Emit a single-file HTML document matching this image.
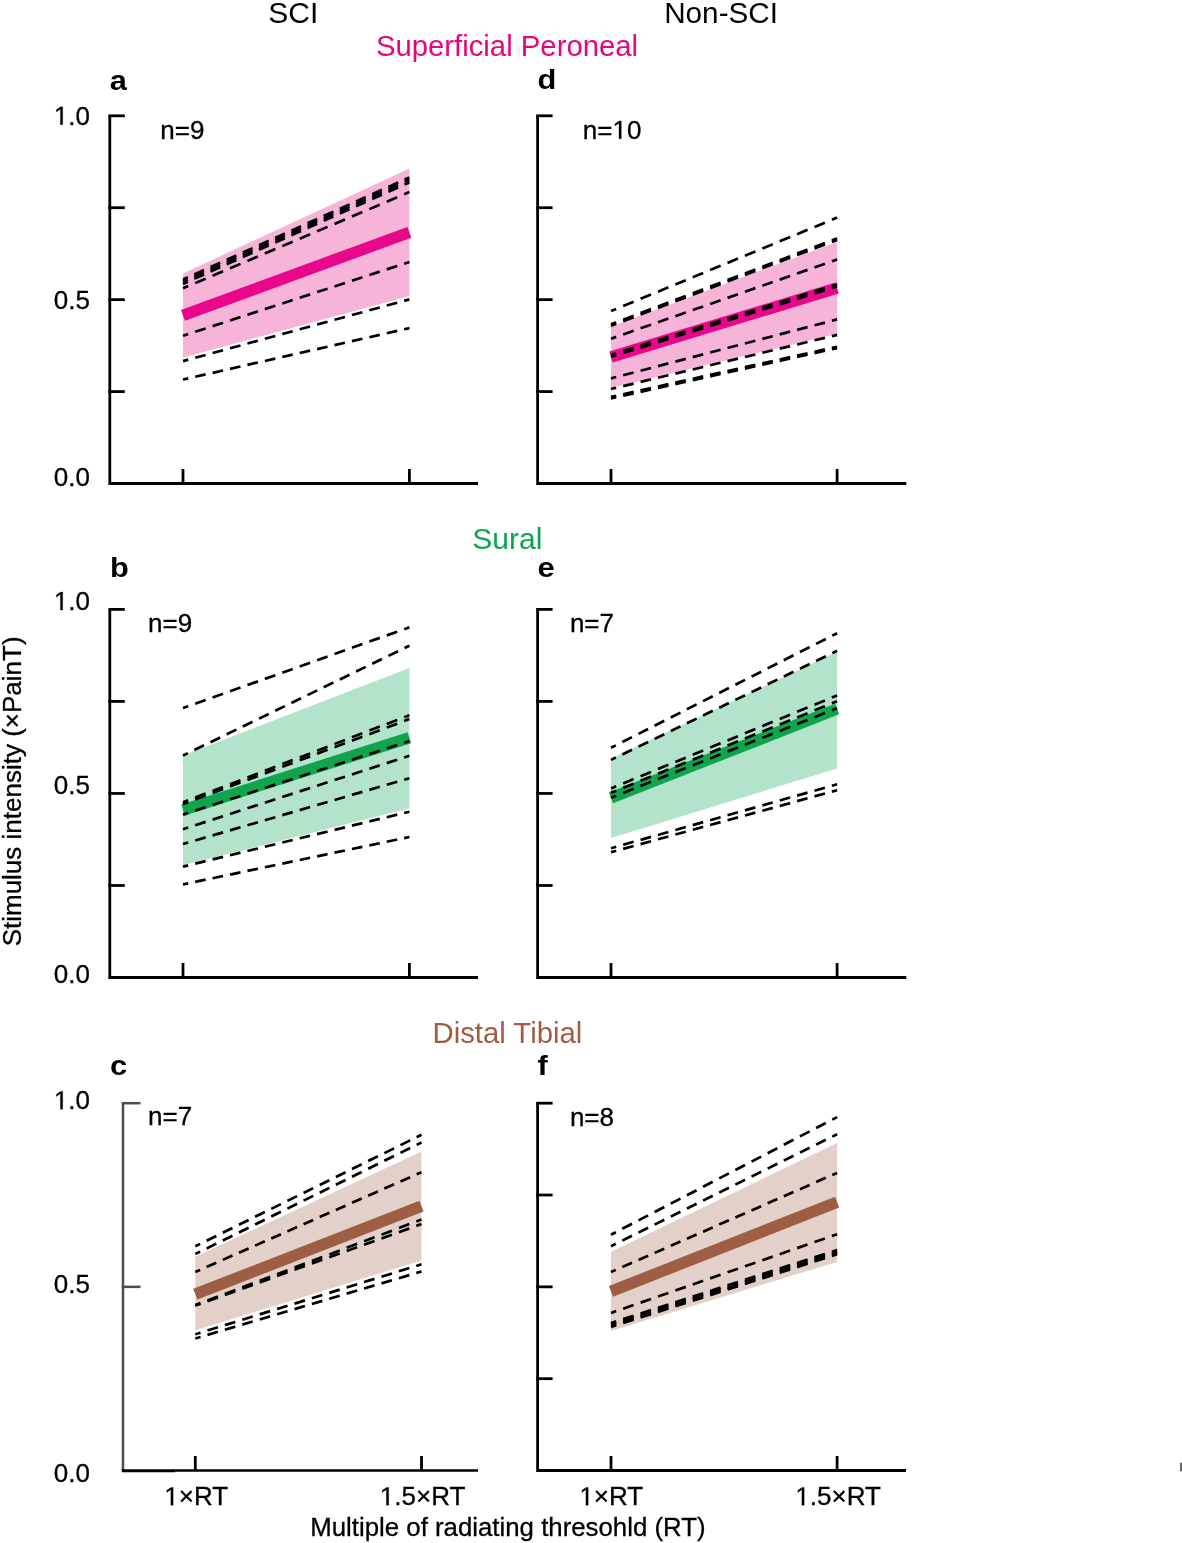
<!DOCTYPE html>
<html><head><meta charset="utf-8"><style>
html,body{margin:0;padding:0;background:#fff;}
body{width:1182px;height:1543px;overflow:hidden;font-family:"Liberation Sans", sans-serif;}
svg{display:block;will-change:transform;}
</style></head><body>
<svg width="1182" height="1543" viewBox="0 0 1182 1543" font-family='"Liberation Sans", sans-serif'>
<rect width="1182" height="1543" fill="#fff"/>
<path d="M109.8 115.8 V483.5 H478" fill="none" stroke="#000" stroke-width="2.8" stroke-linejoin="miter" stroke-linecap="butt"/>
<line x1="108.39999999999999" y1="115.8" x2="124.8" y2="115.8" stroke="#000" stroke-width="2.8"/>
<line x1="108.39999999999999" y1="207.725" x2="124.8" y2="207.725" stroke="#000" stroke-width="2.8"/>
<line x1="108.39999999999999" y1="299.65" x2="124.8" y2="299.65" stroke="#000" stroke-width="2.8"/>
<line x1="108.39999999999999" y1="391.575" x2="124.8" y2="391.575" stroke="#000" stroke-width="2.8"/>
<line x1="183" y1="483.5" x2="183" y2="469.0" stroke="#000" stroke-width="2.8"/>
<line x1="409.4" y1="483.5" x2="409.4" y2="469.0" stroke="#000" stroke-width="2.8"/>
<polygon points="183,273.4 409.4,168.4 409.4,296.0 183,357.5" fill="#F6B4D9"/>
<line x1="183" y1="315.4" x2="409.4" y2="232.3" stroke="#E8078A" stroke-width="11.5"/>
<line x1="183.00" y1="379.55" x2="409.40" y2="328.10" stroke="#000" stroke-width="2.7" stroke-dasharray="10.716 7.144" stroke-dashoffset="5.358"/>
<line x1="183.00" y1="361.10" x2="409.40" y2="299.40" stroke="#000" stroke-width="2.7" stroke-dasharray="10.830 7.220" stroke-dashoffset="5.415"/>
<line x1="183.00" y1="335.80" x2="409.40" y2="262.00" stroke="#000" stroke-width="2.7" stroke-dasharray="10.990 7.327" stroke-dashoffset="5.495"/>
<line x1="183.00" y1="288.30" x2="409.40" y2="192.10" stroke="#000" stroke-width="2.7" stroke-dasharray="11.353 7.569" stroke-dashoffset="5.677"/>
<line x1="183.00" y1="283.90" x2="409.40" y2="182.40" stroke="#000" stroke-width="2.7" stroke-dasharray="10.633 7.089" stroke-dashoffset="5.317"/>
<line x1="183.00" y1="281.70" x2="409.40" y2="179.90" stroke="#000" stroke-width="2.7" stroke-dasharray="10.639 7.092" stroke-dashoffset="5.319"/>
<line x1="183.00" y1="279.50" x2="409.40" y2="177.40" stroke="#000" stroke-width="2.7" stroke-dasharray="10.644 7.096" stroke-dashoffset="5.322"/>
<path d="M537.6 115.8 V483.5 H906.3" fill="none" stroke="#000" stroke-width="2.8" stroke-linejoin="miter" stroke-linecap="butt"/>
<line x1="536.2" y1="115.8" x2="552.6" y2="115.8" stroke="#000" stroke-width="2.8"/>
<line x1="536.2" y1="207.725" x2="552.6" y2="207.725" stroke="#000" stroke-width="2.8"/>
<line x1="536.2" y1="299.65" x2="552.6" y2="299.65" stroke="#000" stroke-width="2.8"/>
<line x1="536.2" y1="391.575" x2="552.6" y2="391.575" stroke="#000" stroke-width="2.8"/>
<line x1="611" y1="483.5" x2="611" y2="469.0" stroke="#000" stroke-width="2.8"/>
<line x1="837.1" y1="483.5" x2="837.1" y2="469.0" stroke="#000" stroke-width="2.8"/>
<polygon points="611,326.6 837.1,242.0 837.1,333.8 611,388.0" fill="#F6B4D9"/>
<line x1="611" y1="357.0" x2="837.1" y2="288.0" stroke="#E8078A" stroke-width="11.5"/>
<line x1="611.00" y1="311.05" x2="837.10" y2="217.60" stroke="#000" stroke-width="2.7" stroke-dasharray="11.292 7.528" stroke-dashoffset="5.646"/>
<line x1="611.00" y1="324.30" x2="837.10" y2="238.40" stroke="#000" stroke-width="2.7" stroke-dasharray="11.163 7.442" stroke-dashoffset="5.582"/>
<line x1="611.00" y1="325.80" x2="837.10" y2="239.90" stroke="#000" stroke-width="2.7" stroke-dasharray="11.163 7.442" stroke-dashoffset="5.582"/>
<line x1="611.00" y1="338.70" x2="837.10" y2="259.50" stroke="#000" stroke-width="2.7" stroke-dasharray="11.057 7.371" stroke-dashoffset="5.529"/>
<line x1="611.00" y1="354.80" x2="837.10" y2="284.30" stroke="#000" stroke-width="2.7" stroke-dasharray="10.931 7.287" stroke-dashoffset="5.465"/>
<line x1="611.00" y1="356.80" x2="837.10" y2="286.50" stroke="#000" stroke-width="2.7" stroke-dasharray="10.928 7.285" stroke-dashoffset="5.464"/>
<line x1="611.00" y1="378.40" x2="837.10" y2="319.40" stroke="#000" stroke-width="2.7" stroke-dasharray="10.785 7.190" stroke-dashoffset="5.392"/>
<line x1="611.00" y1="389.00" x2="837.10" y2="334.90" stroke="#000" stroke-width="2.7" stroke-dasharray="10.730 7.153" stroke-dashoffset="5.365"/>
<line x1="611.00" y1="396.90" x2="837.10" y2="346.70" stroke="#000" stroke-width="2.7" stroke-dasharray="10.689 7.126" stroke-dashoffset="5.345"/>
<line x1="611.00" y1="398.40" x2="837.10" y2="348.10" stroke="#000" stroke-width="2.7" stroke-dasharray="10.691 7.127" stroke-dashoffset="5.345"/>
<path d="M109.8 609.4 V977.5 H478" fill="none" stroke="#000" stroke-width="2.8" stroke-linejoin="miter" stroke-linecap="butt"/>
<line x1="108.39999999999999" y1="609.4" x2="124.8" y2="609.4" stroke="#000" stroke-width="2.8"/>
<line x1="108.39999999999999" y1="701.425" x2="124.8" y2="701.425" stroke="#000" stroke-width="2.8"/>
<line x1="108.39999999999999" y1="793.45" x2="124.8" y2="793.45" stroke="#000" stroke-width="2.8"/>
<line x1="108.39999999999999" y1="885.475" x2="124.8" y2="885.475" stroke="#000" stroke-width="2.8"/>
<line x1="183" y1="977.5" x2="183" y2="963.0" stroke="#000" stroke-width="2.8"/>
<line x1="409.4" y1="977.5" x2="409.4" y2="963.0" stroke="#000" stroke-width="2.8"/>
<polygon points="183,755.4 409.4,668.0 409.4,808.2 183,865.3" fill="#B3E3CB"/>
<line x1="183" y1="810.0" x2="409.4" y2="737.7" stroke="#10A54C" stroke-width="11.5"/>
<line x1="183.00" y1="708.10" x2="409.40" y2="627.30" stroke="#000" stroke-width="2.7" stroke-dasharray="11.095 7.397" stroke-dashoffset="5.547"/>
<line x1="183.00" y1="755.50" x2="409.40" y2="645.70" stroke="#000" stroke-width="2.7" stroke-dasharray="10.784 7.189" stroke-dashoffset="5.392"/>
<line x1="183.00" y1="802.30" x2="409.40" y2="715.20" stroke="#000" stroke-width="2.7" stroke-dasharray="11.196 7.464" stroke-dashoffset="5.598"/>
<line x1="183.00" y1="804.10" x2="409.40" y2="719.10" stroke="#000" stroke-width="2.7" stroke-dasharray="11.161 7.441" stroke-dashoffset="5.581"/>
<line x1="183.00" y1="814.60" x2="409.40" y2="741.10" stroke="#000" stroke-width="2.7" stroke-dasharray="10.986 7.324" stroke-dashoffset="5.493"/>
<line x1="183.00" y1="829.20" x2="409.40" y2="755.80" stroke="#000" stroke-width="2.7" stroke-dasharray="10.985 7.323" stroke-dashoffset="5.492"/>
<line x1="183.00" y1="844.00" x2="409.40" y2="778.20" stroke="#000" stroke-width="2.7" stroke-dasharray="10.882 7.254" stroke-dashoffset="5.441"/>
<line x1="183.00" y1="866.60" x2="409.40" y2="811.70" stroke="#000" stroke-width="2.7" stroke-dasharray="10.752 7.168" stroke-dashoffset="5.376"/>
<line x1="183.00" y1="884.40" x2="409.40" y2="837.00" stroke="#000" stroke-width="2.7" stroke-dasharray="10.676 7.117" stroke-dashoffset="5.338"/>
<path d="M537.6 609.4 V977.5 H906.3" fill="none" stroke="#000" stroke-width="2.8" stroke-linejoin="miter" stroke-linecap="butt"/>
<line x1="536.2" y1="609.4" x2="552.6" y2="609.4" stroke="#000" stroke-width="2.8"/>
<line x1="536.2" y1="701.425" x2="552.6" y2="701.425" stroke="#000" stroke-width="2.8"/>
<line x1="536.2" y1="793.45" x2="552.6" y2="793.45" stroke="#000" stroke-width="2.8"/>
<line x1="536.2" y1="885.475" x2="552.6" y2="885.475" stroke="#000" stroke-width="2.8"/>
<line x1="611" y1="977.5" x2="611" y2="963.0" stroke="#000" stroke-width="2.8"/>
<line x1="837.1" y1="977.5" x2="837.1" y2="963.0" stroke="#000" stroke-width="2.8"/>
<polygon points="611,758.5 837.1,651.8 837.1,768.4 611,838.0" fill="#B3E3CB"/>
<line x1="611" y1="797.8" x2="837.1" y2="709.0" stroke="#10A54C" stroke-width="11.5"/>
<line x1="611.00" y1="747.80" x2="837.10" y2="633.20" stroke="#000" stroke-width="2.7" stroke-dasharray="10.864 7.242" stroke-dashoffset="5.432"/>
<line x1="611.00" y1="759.90" x2="837.10" y2="650.80" stroke="#000" stroke-width="2.7" stroke-dasharray="10.759 7.173" stroke-dashoffset="5.380"/>
<line x1="611.00" y1="788.40" x2="837.10" y2="695.40" stroke="#000" stroke-width="2.7" stroke-dasharray="11.284 7.522" stroke-dashoffset="5.642"/>
<line x1="611.00" y1="792.80" x2="837.10" y2="701.20" stroke="#000" stroke-width="2.7" stroke-dasharray="11.259 7.506" stroke-dashoffset="5.630"/>
<line x1="611.00" y1="797.70" x2="837.10" y2="708.20" stroke="#000" stroke-width="2.7" stroke-dasharray="11.223 7.482" stroke-dashoffset="5.612"/>
<line x1="611.00" y1="848.20" x2="837.10" y2="784.30" stroke="#000" stroke-width="2.7" stroke-dasharray="10.844 7.229" stroke-dashoffset="5.422"/>
<line x1="611.00" y1="852.20" x2="837.10" y2="790.20" stroke="#000" stroke-width="2.7" stroke-dasharray="10.821 7.214" stroke-dashoffset="5.410"/>
<line x1="123.0" y1="1103.2" x2="123.0" y2="1470.5" stroke="#4d4d4d" stroke-width="2.5"/>
<line x1="121.8" y1="1470.8" x2="175" y2="1470.8" stroke="#000" stroke-width="3"/>
<line x1="175" y1="1470.5" x2="478" y2="1470.5" stroke="#000" stroke-width="2.4"/>
<line x1="121.75" y1="1103.2" x2="140.5" y2="1103.2" stroke="#4d4d4d" stroke-width="2.5"/>
<line x1="121.75" y1="1286.85" x2="140.5" y2="1286.85" stroke="#4d4d4d" stroke-width="2.5"/>
<line x1="195.3" y1="1470.5" x2="195.3" y2="1456.0" stroke="#000" stroke-width="2.8"/>
<line x1="421.5" y1="1470.5" x2="421.5" y2="1456.0" stroke="#000" stroke-width="2.8"/>
<polygon points="195.3,1256.8 421.5,1151.4 421.5,1260.4 195.3,1330.3" fill="#E3D1C9"/>
<line x1="195.3" y1="1294.2" x2="421.5" y2="1206.1" stroke="#9E5D45" stroke-width="11.5"/>
<line x1="195.30" y1="1246.30" x2="421.50" y2="1134.80" stroke="#000" stroke-width="2.7" stroke-dasharray="10.808 7.205" stroke-dashoffset="5.404"/>
<line x1="195.30" y1="1254.00" x2="421.50" y2="1142.50" stroke="#000" stroke-width="2.7" stroke-dasharray="10.808 7.205" stroke-dashoffset="5.404"/>
<line x1="195.30" y1="1272.00" x2="421.50" y2="1172.20" stroke="#000" stroke-width="2.7" stroke-dasharray="10.596 7.064" stroke-dashoffset="5.298"/>
<line x1="195.30" y1="1305.10" x2="421.50" y2="1219.50" stroke="#000" stroke-width="2.7" stroke-dasharray="11.163 7.442" stroke-dashoffset="5.581"/>
<line x1="195.30" y1="1305.60" x2="421.50" y2="1224.00" stroke="#000" stroke-width="2.7" stroke-dasharray="11.099 7.399" stroke-dashoffset="5.549"/>
<line x1="195.30" y1="1334.30" x2="421.50" y2="1264.30" stroke="#000" stroke-width="2.7" stroke-dasharray="10.928 7.286" stroke-dashoffset="5.464"/>
<line x1="195.30" y1="1338.50" x2="421.50" y2="1271.50" stroke="#000" stroke-width="2.7" stroke-dasharray="10.888 7.259" stroke-dashoffset="5.444"/>
<path d="M537.6 1103.2 V1470.5 H906.0" fill="none" stroke="#000" stroke-width="2.8" stroke-linejoin="miter" stroke-linecap="butt"/>
<line x1="536.2" y1="1103.2" x2="552.6" y2="1103.2" stroke="#000" stroke-width="2.8"/>
<line x1="536.2" y1="1195.025" x2="552.6" y2="1195.025" stroke="#000" stroke-width="2.8"/>
<line x1="536.2" y1="1286.85" x2="552.6" y2="1286.85" stroke="#000" stroke-width="2.8"/>
<line x1="536.2" y1="1378.675" x2="552.6" y2="1378.675" stroke="#000" stroke-width="2.8"/>
<line x1="611" y1="1470.5" x2="611" y2="1456.0" stroke="#000" stroke-width="2.8"/>
<line x1="837.1" y1="1470.5" x2="837.1" y2="1456.0" stroke="#000" stroke-width="2.8"/>
<polygon points="611,1251.7 837.1,1143.0 837.1,1261.9 611,1331.0" fill="#E3D1C9"/>
<line x1="611" y1="1291.4" x2="837.1" y2="1202.1" stroke="#9E5D45" stroke-width="11.5"/>
<line x1="611.00" y1="1234.70" x2="837.10" y2="1117.10" stroke="#000" stroke-width="2.7" stroke-dasharray="10.922 7.282" stroke-dashoffset="5.461"/>
<line x1="611.00" y1="1246.20" x2="837.10" y2="1134.20" stroke="#000" stroke-width="2.7" stroke-dasharray="10.814 7.209" stroke-dashoffset="5.407"/>
<line x1="611.00" y1="1272.00" x2="837.10" y2="1172.90" stroke="#000" stroke-width="2.7" stroke-dasharray="10.580 7.053" stroke-dashoffset="5.290"/>
<line x1="611.00" y1="1312.90" x2="837.10" y2="1234.20" stroke="#000" stroke-width="2.7" stroke-dasharray="11.049 7.366" stroke-dashoffset="5.525"/>
<line x1="611.00" y1="1323.00" x2="837.10" y2="1250.00" stroke="#000" stroke-width="2.7" stroke-dasharray="10.966 7.311" stroke-dashoffset="5.483"/>
<line x1="611.00" y1="1324.30" x2="837.10" y2="1251.50" stroke="#000" stroke-width="2.7" stroke-dasharray="10.963 7.309" stroke-dashoffset="5.481"/>
<line x1="611.00" y1="1325.70" x2="837.10" y2="1252.90" stroke="#000" stroke-width="2.7" stroke-dasharray="10.963 7.309" stroke-dashoffset="5.481"/>
<line x1="611.00" y1="1327.00" x2="837.10" y2="1254.30" stroke="#000" stroke-width="2.7" stroke-dasharray="10.962 7.308" stroke-dashoffset="5.481"/>
<text x="293.3" y="23.2" font-size="30" text-anchor="middle" font-weight="normal" fill="#000" >SCI</text>
<text x="721.1" y="22.7" font-size="29.7" text-anchor="middle" font-weight="normal" fill="#000" >Non-SCI</text>
<text x="507.0" y="55.5" font-size="29.3" text-anchor="middle" font-weight="normal" fill="#E6047F" >Superficial Peroneal</text>
<text x="507.3" y="549.3" font-size="30" text-anchor="middle" font-weight="normal" fill="#0BA54F" >Sural</text>
<text x="507.4" y="1043.0" font-size="29.3" text-anchor="middle" font-weight="normal" fill="#A25B41" >Distal Tibial</text>
<text x="0" y="0" font-size="28" font-weight="bold" fill="#000" transform="translate(109.7 90.1) scale(1.1 1)">a</text>
<text x="0" y="0" font-size="28" font-weight="bold" fill="#000" transform="translate(537.6 89.0) scale(1.1 1)">d</text>
<text x="0" y="0" font-size="28" font-weight="bold" fill="#000" transform="translate(110.0 576.9) scale(1.1 1)">b</text>
<text x="0" y="0" font-size="28" font-weight="bold" fill="#000" transform="translate(537.4 576.7) scale(1.1 1)">e</text>
<text x="0" y="0" font-size="28" font-weight="bold" fill="#000" transform="translate(110.0 1075.2) scale(1.1 1)">c</text>
<text x="0" y="0" font-size="28" font-weight="bold" fill="#000" transform="translate(537.4 1075.2) scale(1.1 1)">f</text>
<text x="160.3" y="139" font-size="26" text-anchor="start" font-weight="normal" fill="#000" stroke="#000" stroke-width="0.3" >n=9</text>
<text x="582.8" y="138.8" font-size="26" text-anchor="start" font-weight="normal" fill="#000" stroke="#000" stroke-width="0.3">n= 0</text>
<path d="M515 0V1237L197 1010V1180L530 1409H696V0Z" fill="#000" stroke="#000" stroke-width="23.63" transform="translate(612.44 138.8) scale(0.01270 -0.01270)"/>
<text x="148.1" y="631.7" font-size="26" text-anchor="start" font-weight="normal" fill="#000" stroke="#000" stroke-width="0.3" >n=9</text>
<text x="569.9" y="632.1" font-size="26" text-anchor="start" font-weight="normal" fill="#000" stroke="#000" stroke-width="0.3" >n=7</text>
<text x="148.1" y="1125.4" font-size="26" text-anchor="start" font-weight="normal" fill="#000" stroke="#000" stroke-width="0.3" >n=7</text>
<text x="569.9" y="1126.3" font-size="26" text-anchor="start" font-weight="normal" fill="#000" stroke="#000" stroke-width="0.3" >n=8</text>
<text x="90.0" y="124.708" font-size="26" text-anchor="end" font-weight="normal" fill="#000" stroke="#000" stroke-width="0.3"> .0</text>
<path d="M515 0V1237L197 1010V1180L530 1409H696V0Z" fill="#000" stroke="#000" stroke-width="23.63" transform="translate(53.86 124.708) scale(0.01270 -0.01270)"/>
<text x="90.0" y="308.908" font-size="26" text-anchor="end" font-weight="normal" fill="#000" stroke="#000" stroke-width="0.3" >0.5</text>
<text x="90.0" y="485.808" font-size="26" text-anchor="end" font-weight="normal" fill="#000" stroke="#000" stroke-width="0.3" >0.0</text>
<text x="90.0" y="610.008" font-size="26" text-anchor="end" font-weight="normal" fill="#000" stroke="#000" stroke-width="0.3"> .0</text>
<path d="M515 0V1237L197 1010V1180L530 1409H696V0Z" fill="#000" stroke="#000" stroke-width="23.63" transform="translate(53.86 610.008) scale(0.01270 -0.01270)"/>
<text x="90.0" y="793.908" font-size="26" text-anchor="end" font-weight="normal" fill="#000" stroke="#000" stroke-width="0.3" >0.5</text>
<text x="90.0" y="983.008" font-size="26" text-anchor="end" font-weight="normal" fill="#000" stroke="#000" stroke-width="0.3" >0.0</text>
<text x="90.0" y="1109.308" font-size="26" text-anchor="end" font-weight="normal" fill="#000" stroke="#000" stroke-width="0.3"> .0</text>
<path d="M515 0V1237L197 1010V1180L530 1409H696V0Z" fill="#000" stroke="#000" stroke-width="23.63" transform="translate(53.86 1109.308) scale(0.01270 -0.01270)"/>
<text x="90.0" y="1293.308" font-size="26" text-anchor="end" font-weight="normal" fill="#000" stroke="#000" stroke-width="0.3" >0.5</text>
<text x="90.0" y="1482.108" font-size="26" text-anchor="end" font-weight="normal" fill="#000" stroke="#000" stroke-width="0.3" >0.0</text>
<text x="196.2" y="1505.3" font-size="26" text-anchor="middle" font-weight="normal" fill="#000" stroke="#000" stroke-width="0.3"> ×RT</text>
<path d="M515 0V1237L197 1010V1180L530 1409H696V0Z" fill="#000" stroke="#000" stroke-width="23.63" transform="translate(164.28 1505.3) scale(0.01270 -0.01270)"/>
<text x="422.6" y="1505.3" font-size="26" text-anchor="middle" font-weight="normal" fill="#000" stroke="#000" stroke-width="0.3"> .5×RT</text>
<path d="M515 0V1237L197 1010V1180L530 1409H696V0Z" fill="#000" stroke="#000" stroke-width="23.63" transform="translate(379.84 1505.3) scale(0.01270 -0.01270)"/>
<text x="611.3" y="1505.3" font-size="26" text-anchor="middle" font-weight="normal" fill="#000" stroke="#000" stroke-width="0.3"> ×RT</text>
<path d="M515 0V1237L197 1010V1180L530 1409H696V0Z" fill="#000" stroke="#000" stroke-width="23.63" transform="translate(579.38 1505.3) scale(0.01270 -0.01270)"/>
<text x="838.1" y="1505.3" font-size="26" text-anchor="middle" font-weight="normal" fill="#000" stroke="#000" stroke-width="0.3"> .5×RT</text>
<path d="M515 0V1237L197 1010V1180L530 1409H696V0Z" fill="#000" stroke="#000" stroke-width="23.63" transform="translate(795.34 1505.3) scale(0.01270 -0.01270)"/>
<text x="507.9" y="1536.0" font-size="25.8" text-anchor="middle" font-weight="normal" fill="#000" stroke="#000" stroke-width="0.3" >Multiple of radiating thresohld (RT)</text>
<text x="0" y="0" font-size="26" text-anchor="middle" font-weight="normal" fill="#000" stroke="#000" stroke-width="0.3" transform="translate(20.7 791.4) rotate(-90)">Stimulus intensity (×PainT)</text>
<rect x="1180" y="1462.7" width="2" height="8.6" fill="#666"/>
</svg>
</body></html>
